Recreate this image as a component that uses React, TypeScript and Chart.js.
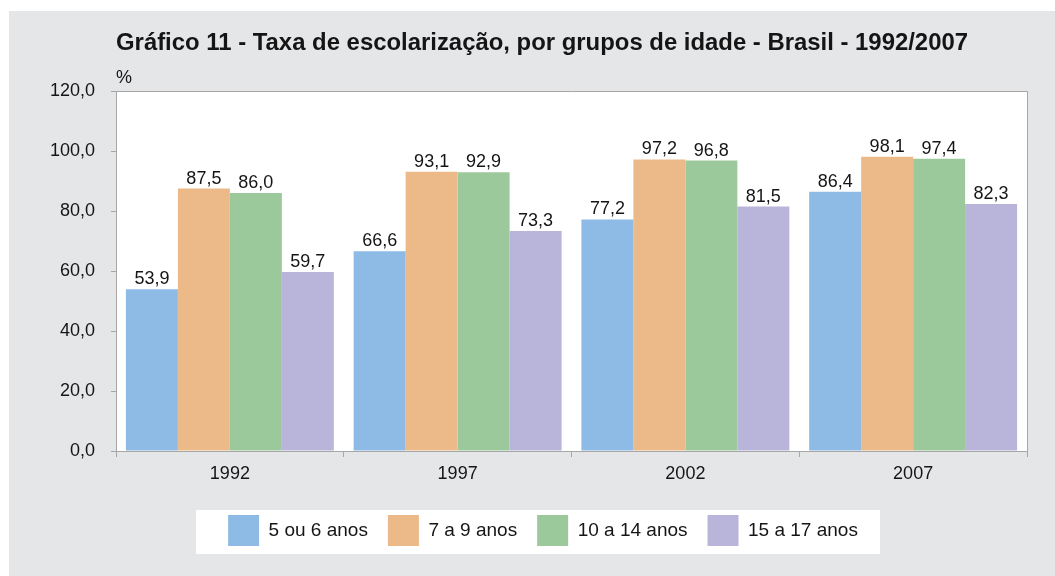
import React, { useEffect, useRef } from "react";
import { Chart, registerables } from "chart.js";

Chart.register(...registerables);

const categories = ["1992", "1997", "2002", "2007"];
const seriesNames = ["5 ou 6 anos", "7 a 9 anos", "10 a 14 anos", "15 a 17 anos"];
const age5to6 = [53.9, 66.6, 77.2, 86.4];
const age7to9 = [87.5, 93.1, 97.2, 98.1];
const age10to14 = [86.0, 92.9, 96.8, 97.4];
const age15to17 = [59.7, 73.3, 81.5, 82.3];
const seriesColors = ["#8ebbe6", "#ecba88", "#9bc99b", "#b9b5da"];
const yTicks = [0, 20, 40, 60, 80, 100, 120];

const titleText = "Gráfico 11 - Taxa de escolarização, por grupos de idade - Brasil - 1992/2007";
const FONT = '"Liberation Sans", Arial, Helvetica, sans-serif';
const AXIS_COLOR = "#a6a6a6";
const TEXT_COLOR = "#151515";

const fmt = (v: number) => v.toFixed(1).replace(".", ",");

const decorPlugin = {
  id: "decor",
  afterLayout(chart: any) {
    const lg = chart.legend;
    if (lg) {
      const dx = 14.5;
      lg.left += dx;
      lg.right += dx;
    }
  },
  beforeDraw(chart: any) {
    const { ctx, chartArea } = chart;
    ctx.save();
    ctx.fillStyle = "#e5e6e8";
    ctx.fillRect(9, 11, chart.width - 9, chart.height - 11);
    ctx.fillStyle = "#ffffff";
    ctx.fillRect(chartArea.left, chartArea.top, chartArea.right - chartArea.left, chartArea.bottom - chartArea.top);
    // legend white box
    const lg = chart.legend;
    if (lg) {
      ctx.fillRect(196, lg.top + 15, 684, 44);
    }
    // title
    ctx.fillStyle = TEXT_COLOR;
    ctx.font = `bold 23.9px ${FONT}`;
    ctx.textAlign = "left";
    ctx.textBaseline = "alphabetic";
    ctx.fillText(titleText, chartArea.left, 50);
    ctx.font = `18px ${FONT}`;
    ctx.fillText("%", chartArea.left, 83);
    ctx.restore();
  },
  afterDraw(chart: any) {
    const { ctx, chartArea } = chart;
    ctx.save();
    ctx.strokeStyle = AXIS_COLOR;
    ctx.lineWidth = 1;
    ctx.beginPath();
    ctx.moveTo(chartArea.left, chartArea.top + 0.5);
    ctx.lineTo(chartArea.right + 0.5, chartArea.top + 0.5);
    ctx.lineTo(chartArea.right + 0.5, chartArea.bottom);
    ctx.stroke();
    ctx.restore();
  },
  afterDatasetsDraw(chart: any) {
    const { ctx } = chart;
    ctx.save();
    ctx.font = `18px ${FONT}`;
    ctx.fillStyle = TEXT_COLOR;
    ctx.textAlign = "center";
    ctx.textBaseline = "alphabetic";
    chart.data.datasets.forEach((ds: any, i: number) => {
      const meta = chart.getDatasetMeta(i);
      meta.data.forEach((el: any, j: number) => {
        ctx.fillText(fmt(ds.data[j]), el.x, el.y - 5);
      });
    });
    ctx.restore();
  },
};

export default function App() {
  const canvasRef = useRef<HTMLCanvasElement | null>(null);

  useEffect(() => {
    if (!canvasRef.current) return;
    Chart.defaults.font.family = FONT;
    const allSeries = [age5to6, age7to9, age10to14, age15to17];
    const chart = new Chart(canvasRef.current, {
      type: "bar",
      data: {
        labels: categories,
        datasets: allSeries.map((d, i) => ({
          label: seriesNames[i],
          data: d,
          backgroundColor: seriesColors[i],
          borderWidth: 0,
          categoryPercentage: 0.913,
          barPercentage: 1.0,
        })),
      },
      options: {
        responsive: false,
        animation: false,
        devicePixelRatio: 1,
        layout: { padding: { left: 30, right: 28, top: 91, bottom: 20 } },
        plugins: {
          title: { display: false },
          tooltip: { enabled: false },
          legend: {
            display: true,
            position: "bottom",
            labels: {
              boxWidth: 31,
              boxHeight: 31,
              padding: 20,
              color: TEXT_COLOR,
              font: { size: 19, family: FONT },
            },
          },
        },
        scales: {
          x: {
            offset: true,
            grid: {
              display: true,
              offset: true,
              drawOnChartArea: false,
              drawTicks: true,
              tickLength: 6,
              color: AXIS_COLOR,
            },
            border: { display: true, color: AXIS_COLOR },
            ticks: { color: TEXT_COLOR, font: { size: 18 }, padding: 6 },
            afterFit: (scale: any) => {
              scale.height = 44;
            },
          },
          y: {
            min: 0,
            max: 120,
            afterBuildTicks: (scale: any) => {
              scale.ticks = yTicks.map((v) => ({ value: v }));
            },
            grid: {
              display: true,
              drawOnChartArea: false,
              drawTicks: true,
              tickLength: 5,
              color: AXIS_COLOR,
            },
            border: { display: true, color: AXIS_COLOR },
            ticks: {
              color: TEXT_COLOR,
              font: { size: 18 },
              padding: 16,
              callback: (v: any) => fmt(Number(v)),
            },
            afterFit: (scale: any) => {
              scale.width = 86;
            },
          },
        },
      },
      plugins: [decorPlugin],
    });
    return () => chart.destroy();
  }, []);

  return (
    <div style={{ position: "absolute", left: 0, top: 0, width: 1055, height: 576 }}>
      <canvas ref={canvasRef} width={1055} height={576} style={{ display: "block" }} />
    </div>
  );
}
